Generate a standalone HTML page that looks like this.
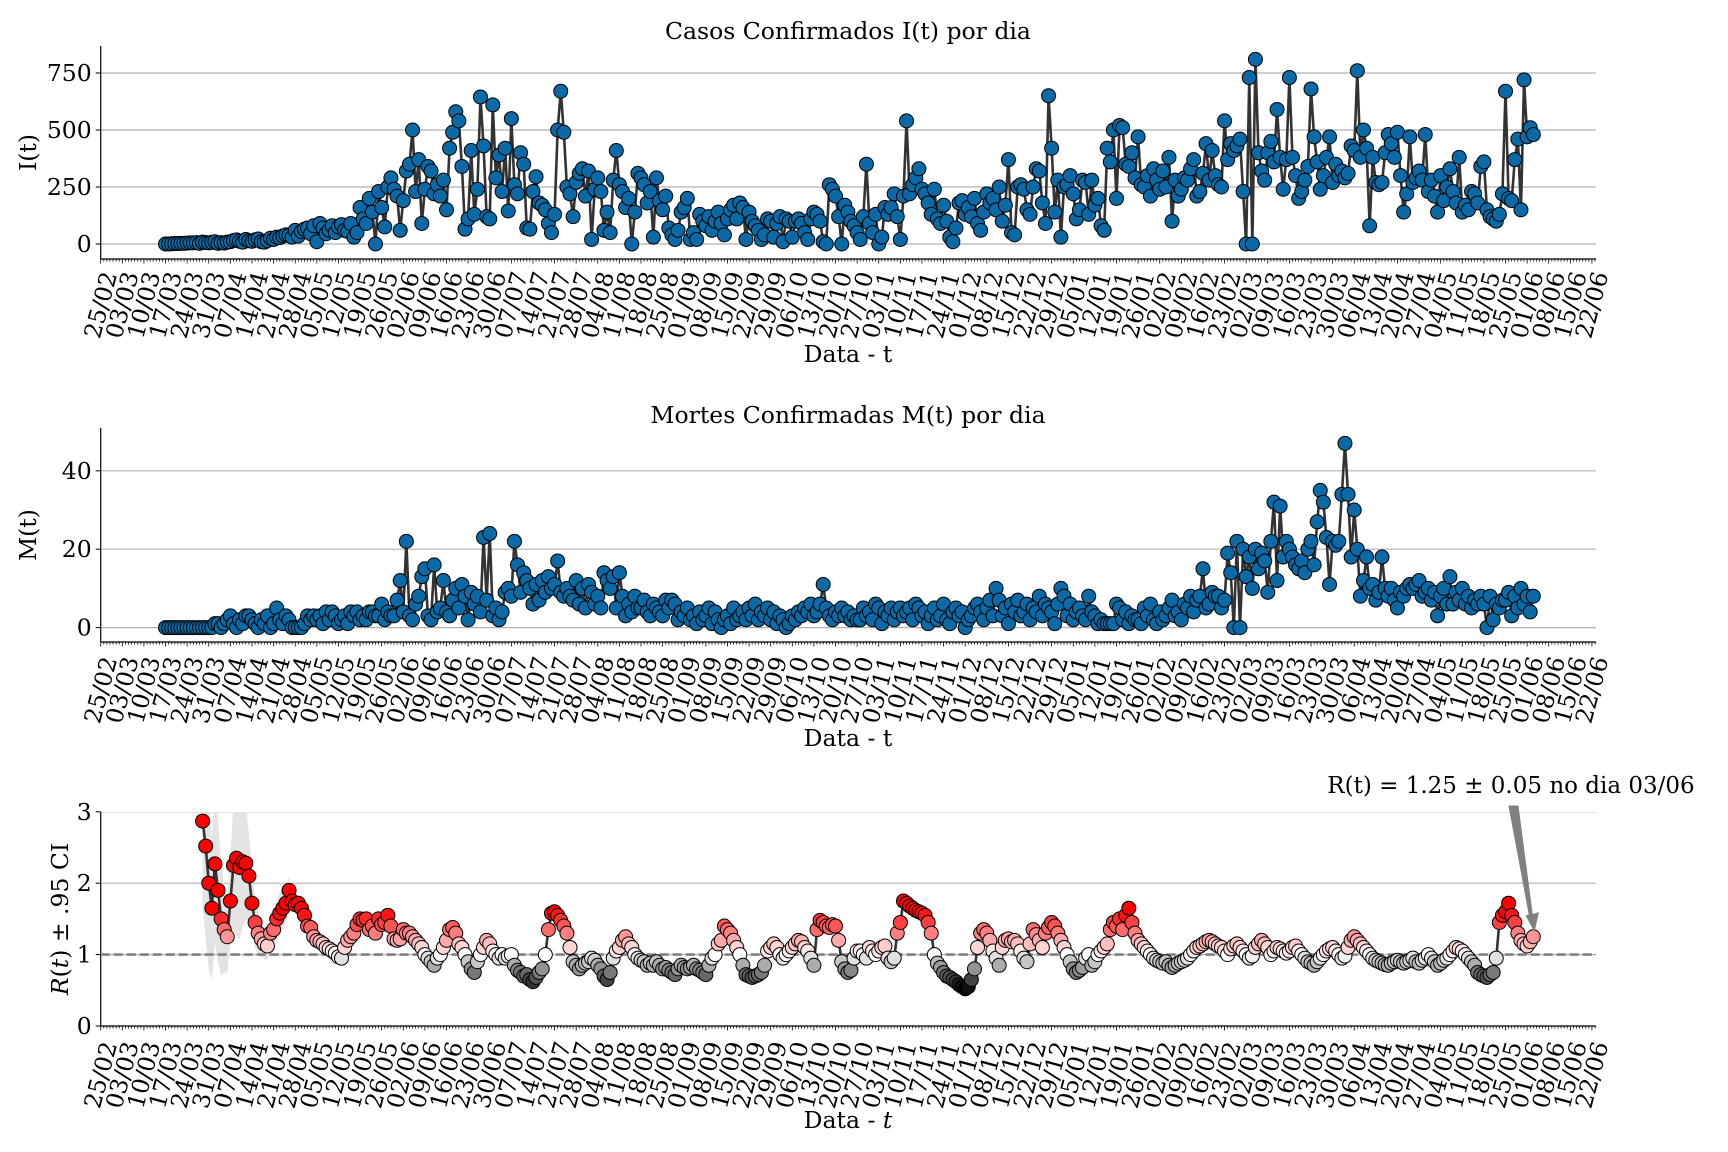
<!DOCTYPE html>
<html><head><meta charset="utf-8"><title>Casos, Mortes e Infectividade</title>
<style>
html,body{margin:0;padding:0;background:#fff;}
svg{display:block;font-family:"DejaVu Serif","Liberation Serif",serif;}
</style></head>
<body>
<svg id="chart" width="1728" height="1152" viewBox="0 0 1728 1152" xmlns="http://www.w3.org/2000/svg"></svg>
<script>
// ---- data ----
const tickLabels = ["25/02","03/03","10/03","17/03","24/03","31/03","07/04","14/04","21/04","28/04","05/05","12/05","19/05","26/05","02/06","09/06","16/06","23/06","30/06","07/07","14/07","21/07","28/07","04/08","11/08","18/08","25/08","01/09","08/09","15/09","22/09","29/09","06/10","13/10","20/10","27/10","03/11","10/11","17/11","24/11","01/12","08/12","15/12","22/12","29/12","05/01","12/01","19/01","26/01","02/02","09/02","16/02","23/02","02/03","09/03","16/03","23/03","30/03","06/04","13/04","20/04","27/04","04/05","11/05","18/05","25/05","01/06","08/06","15/06","22/06"];
const startDay = 21; // 17/03 = day 21 after 25/02
const casesA = [0,0,1,2,2,3,3, 4,5,5,6,3,8,6, 5,7,10,3,6,4,8, 10,15,18,12,8,20,14, 12,18,22,10,8,15,25, 20,30,28,35,40,38,30, 60,35,55,65,70,45,80, 10,90,70,45,60,80,50, 75,85,60,55,90,30,50, 160,110,90,200,140,0,230, 160,75,250,290,240,210,60, 190,320,350,500,230,370,90, 240,340,320,220,260,210,280, 150,420,490,580,540,340,65, 110,410,130,240,645,430,120, 110,610,290,390,230,420,145, 550,260,220,400,350,70,65, 230,295,180,170,150,90,50, 130,500,670];
const casesB = [490,250,220,120, 270,310,330,210,320,20,240, 290,230,60,140,50,280,410, 260,230,160,200,0,140,310, 290,260,180,230,30,290,190, 150,210,70,40,20,60,140, 160,200,20,50,20,130,100, 80,120,60,100,140,90,40,110, 150,170,110,180,160,20,140, 100,80,60,20,40,110,100, 30,90,120,10,110,100,30, 100,110,90,50,20,110,140, 130,100,10,0,260,240,210, 120,0,170,140,100,80,50, 20,120,350,90,50,130,0, 30,160,130,160,220,120,20, 210,540];
const casesC = [220,260,290,330,240, 220,180,130,240,110,90,170, 100,30,10,70,180,190,130, 160,120,200,90,60,140,220,180, 200,150,250,100,170,370,50, 40,250,260,240,150,130,250, 330,320,180,90,650];
const casesD = [420,140, 280,30,250,260,300,220,110, 150,280,270,130,280,170,200, 80,60,420,360,500,200,520, 510,350,340,400,290,470,260, 250,300,210,330,280,240, 320,250,380,100,280,210,240, 290,280,330,370,210,230,310, 440,280,410,300,260,250,540, 370,440,410,430,460,230,0, 730,0,810];
const casesE = [400,320,280,400, 450,360,590,380,240,370,730, 380,300,200,230,280,340,680, 470,360,240,300,380,470,270, 350,300, 320,290,310,430,410,760];
const casesF = [380,500,420,80,380,270,260,270,400,480,440,380,490,300,140,220,470,270,290,320,280,480,230,280,210,140,300,190,250,330,230,180,380,140,170,150,230,220,180,340,360,150,120,110,100,130,220,670,200,190,370,460,150, 720,470,510,480];
const cases = [].concat(casesA,casesB,casesC,casesD,casesE,casesF);

const deaths = [0,0,0,0,0,0,0,0,0,0, 0,0,0,0,0,0,1,1,0,1, 2,3,1,0,2,1,3,3,2,1, 0,2,1,3,0,1,5,2,1,3, 2,0,0,0,0,1,3,2,3,2,
 3,1,4,2,4,3,1,2,3,1, 4,3,4,2,3,2,4,4,3,3, 6,2,4,3,3,7,12,4,22,3, 2,6,8,13,15,3,2,16,4,5, 12,4,3,7,10,5,11,8,2,9,
 6,8,4,23,7,24,3,5,2,4, 9,10,8,22,16,9,14,12,10,6, 11,7,12,9,13,10,11,17,9,8, 10,8,7,12,6,10,5,11,9,6, 8,5,14,12,10,13,5,14,8,3,
 6,4,8,5,5,7,4,3,6,5, 4,3,7,5,7,6,2,4,3,5, 2,3,1,4,2,3,5,1,4,2, 0,2,3,1,5,2,3,4,2,5, 3,6,2,4,3,5,2,4,1,3,
 2,0,1,3,2,4,3,5,4,6, 3,4,6,11,5,3,2,4,3,5, 3,4,2,3,2,2,5,3,4,2, 6,5,1,4,3,5,2,4,5,3, 4,5,2,6,5,3,4,1,3,5,
 2,3,6,2,1,4,5,3,4,0, 2,3,5,6,4,2,5,7,3,10, 7,3,5,1,6,4,7,3,4,6, 2,5,4,8,3,6,5,4,1,6, 10,8,3,6,2,4,5,3,2,8,
 4,3,1,2,1,1,1,1,6,5, 2,4,1,3,2,2,1,5,3,6, 2,1,4,2,3,5,7,3,4,2, 6,5,8,4,7,8,15,5,6,9, 8,8,5,7,19,14,0,22,0,20,
 13,18,10,20,15,19,17,9,22,32, 12,31,18,22,20,18,16,15,17,14,20,22,16, 27,35,32,23,11,22,21,22,34,47, 34,18,30,20,8,12,18,
 10,11,7,9,18,10,8,10,7,5, 9,8,10,11,10,11,12,8,9,10, 7,9,3,8,10,6,13,6,9,7, 10,6,8,5,7,6,8,6,0,8, 2,6,5,7,7,9,3,8,5,10, 6,8,4,8];

const rStart = 12; // index (from 17/03) of first R estimate
const rValues = [2.87,2.52,2.0,1.65,2.27,1.9,1.5,1.35,
 1.25,1.75,2.25,2.35,2.22,2.3,2.28,2.1,1.72,1.45, 1.3,1.22,1.15,1.12,1.3,1.35,1.5,1.58,1.65,1.72,
 1.9,1.75,1.7,1.72,1.65,1.55,1.4,1.38,1.25,1.2, 1.18,1.15,1.1,1.08,1.05,1.02,0.97,0.95,1.1,1.2,
 1.25,1.3,1.42,1.5,1.48,1.5,1.35,1.4,1.3,1.5, 1.42,1.45,1.55,1.4,1.22,1.2,1.22,1.35,1.3,1.3,
 1.25,1.2,1.15,1.1,1.0,0.95,0.9,0.85,0.95,1.0, 1.1,1.2,1.35,1.38,1.3,1.15,1.1,1.0,0.9,0.8,
 0.75,0.9,1.0,1.1,1.2,1.15,1.05,1.0,0.95,1.0, 0.95,0.98,1.0,0.85,0.78,0.75,0.7,0.72,0.65,0.62,
 0.68,0.75,0.8,1.0,1.35,1.58,1.6,1.55,1.48,1.4, 1.3,1.1,0.9,0.85,0.8,0.85,0.88,0.9,0.95,0.92,
 0.85,0.8,0.7,0.65,0.75,0.95,1.05,1.1,1.2,1.25, 1.15,1.1,1.0,0.95,0.92,0.9,0.85,0.88,0.85,0.9,
 0.85,0.8,0.82,0.78,0.75,0.72,0.8,0.85,0.82,0.8, 0.82,0.85,0.8,0.78,0.75,0.72,0.85,0.95,1.0,1.15,
 1.2,1.4,1.35,1.3,1.2,1.1,1.0,0.85,0.72,0.7, 0.68,0.7,0.72,0.75,0.85,1.05,1.1,1.15,1.1,1.0,
 0.95,1.0,1.05,1.1,1.15,1.2,1.18,1.1,1.05,0.95, 0.85,1.35,1.48,1.45,1.4,1.38,1.42,1.4,1.2,0.9,
 0.8,0.75,0.78,0.95,1.05,1.05,1.0,0.95,1.1,1.05, 1.0,1.05,1.1,1.12,0.95,0.9,0.95,1.3,1.45,1.75,
 1.72,1.68,1.65,1.62,1.6,1.58,1.55,1.45,1.3,1.0, 0.88,0.82,0.75,0.7,0.68,0.65,0.62,0.58,0.55,0.52,
 0.55,0.65,0.8,1.1,1.3,1.35,1.3,1.2,1.05,0.95, 0.85,1.1,1.2,1.22,1.18,1.2,1.15,1.05,0.95,0.9,
 1.15,1.35,1.28,1.2,1.1,1.3,1.38,1.45,1.4,1.3, 1.2,1.1,1.0,0.9,0.8,0.75,0.78,0.82,0.95,1.0,
 0.85,0.9,1.0,1.05,1.1,1.15,1.35,1.45,1.4,1.5, 1.35,1.55,1.65,1.45,1.3,1.2,1.15,1.1,1.05,1.0,
 0.95,0.92,0.9,0.88,0.9,0.85,0.82,0.85,0.88,0.9, 0.92,0.95,1.0,1.05,1.1,1.12,1.15,1.18,1.2,1.18,
 1.15,1.12,1.1,1.05,1.0,1.08,1.12,1.15,1.1,1.05, 1.0,0.95,0.98,1.1,1.15,1.2,1.15,1.1,1.0,1.05,
 1.1,1.08,1.05,1.02,1.05,1.1,1.12,1.05,1.0,0.95, 0.9,0.88,0.85,0.9,0.95,1.0,1.05,1.08,1.1,1.05,
 1.0,0.95,0.98,1.1,1.2,1.25,1.2,1.15,1.1,1.05, 1.0,0.95,0.92,0.9,0.88,0.86,0.85,0.88,0.9,0.92,
 0.9,0.88,0.9,0.92,0.95,0.9,0.88,0.92,0.95,1.0, 0.95,0.9,0.85,0.88,0.92,0.95,1.0,1.05,1.1,1.08,
 1.05,1.0,0.95,0.9,0.85,0.75,0.72,0.7,0.68,0.72, 0.75,0.95,1.45,1.55,1.6,1.72,1.55,1.45,1.3,1.2,
 1.15,1.12,1.18,1.25];
const rCiHalf = [1.2,1.3,1.2,1.0,1.1,1.0,0.8,0.6,0.5,0.6,0.9,1.1,1.0,0.9,0.8,0.6,0.45,0.35,0.3,0.25,0.22,0.2,0.2,0.22,0.25,0.28,0.3,0.25,0.2,0.15,0.12,0.1,0.08,0.07,0.06];
const rCiDefault = 0.04;

// ---- layout ----
const NS = "http://www.w3.org/2000/svg";
const svg = document.getElementById('chart');
const X0 = 100.7, PXDAY = 3.0875, XEND = 1596;
const FS = 23.5;
function xDay(d){ return X0 + d*PXDAY; }
function mk(tag, attrs, parent){ const e=document.createElementNS(NS,tag); for(const k in attrs) e.setAttribute(k,attrs[k]); (parent||svg).appendChild(e); return e; }

const panels = [
  {name:'cases', top:46, bottom:259, y0:244, pxPerUnit:171/750, ticks:[0,250,500,750], title:'Casos Confirmados I(t) por dia', titleY:39, ylabel:'I(t)', ylabelX:36, tickCy:305, xlabelY:362},
  {name:'deaths', top:428, bottom:642, y0:627.6, pxPerUnit:3.92, ticks:[0,20,40], title:'Mortes Confirmadas M(t) por dia', titleY:423, ylabel:'M(t)', ylabelX:36, tickCy:690, xlabelY:746},
  {name:'rt', top:812, bottom:1026, y0:1026, pxPerUnit:71.4, ticks:[0,1,2,3], title:'Infectividade Estimada', titleY:804, ylabel:'rt', ylabelX:68, tickCy:1075, xlabelY:1128}
];

panels.forEach(p=>{
  const g = mk('g',{});
  
  
  p.y = v => p.y0 - v*p.pxPerUnit;
  p.ticks.forEach(t=>{
    const yy=p.y(t);
    if(Math.abs(yy-p.bottom)>1){
      const gl=mk('line',{x1:X0,x2:XEND,y1:yy,y2:yy,stroke:'#b0b0b0','stroke-width':1.2},g);
      
      
    }
    mk('line',{x1:X0-5,x2:X0,y1:yy,y2:yy,stroke:'#000','stroke-width':1},g);
    const tl=mk('text',{x:X0-9,y:yy+8,'text-anchor':'end','font-size':FS,fill:'#000'},g);
    tl.textContent=t;
    
    
  });
  const ls=mk('line',{x1:X0,x2:X0,y1:p.top,y2:p.bottom,stroke:'#000','stroke-width':1.2},g);
  
  
  const bs=mk('line',{x1:X0,x2:XEND,y1:p.bottom,y2:p.bottom,stroke:'#000','stroke-width':1.2},g);
  
  
  let dpath='';
  for(let d=0; xDay(d)<=XEND; d++){ const xx=xDay(d); dpath+=`M${xx.toFixed(2)} ${p.bottom}v${d%7===0?4.5:2.5}`; }
  mk('path',{d:dpath,stroke:'#000','stroke-width':0.8,fill:'none'},g);
  tickLabels.forEach((lab,i)=>{
    const xx=xDay(i*7);
    const t=mk('text',{transform:`translate(${xx.toFixed(2)},${p.tickCy}) rotate(-75)`,'text-anchor':'middle','dominant-baseline':'central','font-size':FS,fill:'#000'},g);
    t.textContent=lab;
    
    
  });
  const tt=mk('text',{x:848,y:p.titleY,'text-anchor':'middle','font-size':FS,fill:'#000'},g);
  tt.textContent=p.title;
  
  
  const xl=mk('text',{x:848,y:p.xlabelY,'text-anchor':'middle','font-size':FS,fill:'#000'},g);
  if(p.name==='rt'){ xl.innerHTML='Data - <tspan font-style="italic">t</tspan>'; } else { xl.textContent='Data - t'; }
  
  
  const cy=(p.top+p.bottom)/2;
  const yl=mk('text',{transform:`translate(${p.ylabelX},${cy}) rotate(-90)`,'text-anchor':'middle','font-size':FS,fill:'#000'},g);
  if(p.name==='rt'){ yl.innerHTML='<tspan font-style="italic">R</tspan>(<tspan font-style="italic">t</tspan>) ± .95 CI'; } else { yl.textContent=p.ylabel; }
  
  
  p.g=g;
});

function drawSeries(p, vals, offset, colorFn, name){
  const pts = vals.map((v,i)=>[xDay(startDay+offset+i), p.y(v)]);
  const line = mk('polyline',{points:pts.map(q=>q[0].toFixed(2)+','+q[1].toFixed(2)).join(' '),fill:'none',stroke:'#333','stroke-width':2.6,'stroke-linejoin':'round'},p.g);
  
  
  pts.forEach((q,i)=>{
    const c=mk('circle',{cx:q[0].toFixed(2),cy:q[1].toFixed(2),r:7,fill:colorFn(vals[i]),stroke:'#000','stroke-width':1},p.g);
    
    
  });
}

drawSeries(panels[0], cases, 0, ()=>'#0b6aa5', 'cases');
drawSeries(panels[1], deaths, 0, ()=>'#0b6aa5', 'deaths');

const pr = panels[2];
(function(){
  const up=[], lo=[];
  rValues.forEach((v,i)=>{
    const h = i<rCiHalf.length ? rCiHalf[i] : rCiDefault;
    const xx = xDay(startDay+rStart+i);
    up.push([xx, pr.y(Math.min(v+h,3.3))]);
    lo.push([xx, pr.y(Math.max(v-h,0))]);
  });
  const all = up.concat(lo.reverse());
  const band = mk('polygon',{points:all.map(q=>q[0].toFixed(2)+','+q[1].toFixed(2)).join(' '),fill:'#e3e3e3',stroke:'none'},pr.g);
  
  
  mk('rect',{x:X0+1,y:pr.top-40,width:XEND-X0,height:40,fill:'#fff'},pr.g);
})();
const ref = mk('line',{x1:X0,x2:XEND,y1:pr.y(1),y2:pr.y(1),stroke:'#808080','stroke-width':2.6,'stroke-dasharray':'9,4'},pr.g);


function rColor(r){
  if(r>=1){ const t=Math.min((r-1)/0.6,1); const c=Math.round(255*(1-t)); return `rgb(255,${c},${c})`; }
  const t=Math.min((1-r)/0.48,1); const c=Math.round(250*(1-t)); return `rgb(${c},${c},${c})`;
}
drawSeries(pr, rValues, rStart, rColor, 'rt');
const ann = mk('text',{x:1511,y:793,'text-anchor':'middle','font-size':23,fill:'#000'});
ann.textContent='R(t) = 1.25 ± 0.05 no dia 03/06';


const lastX = xDay(startDay+rStart+rValues.length-1), lastY = pr.y(rValues[rValues.length-1]);
const arrow = mk('polygon',{points:`1509,806 1518,806 ${lastX-1},${lastY-22} ${lastX+5},${lastY-24} ${lastX+1},${lastY-6} ${lastX-7},${lastY-21} ${lastX-4},${lastY-22}`,fill:'#808080',stroke:'#808080','stroke-width':1});


</script>
</body></html>
